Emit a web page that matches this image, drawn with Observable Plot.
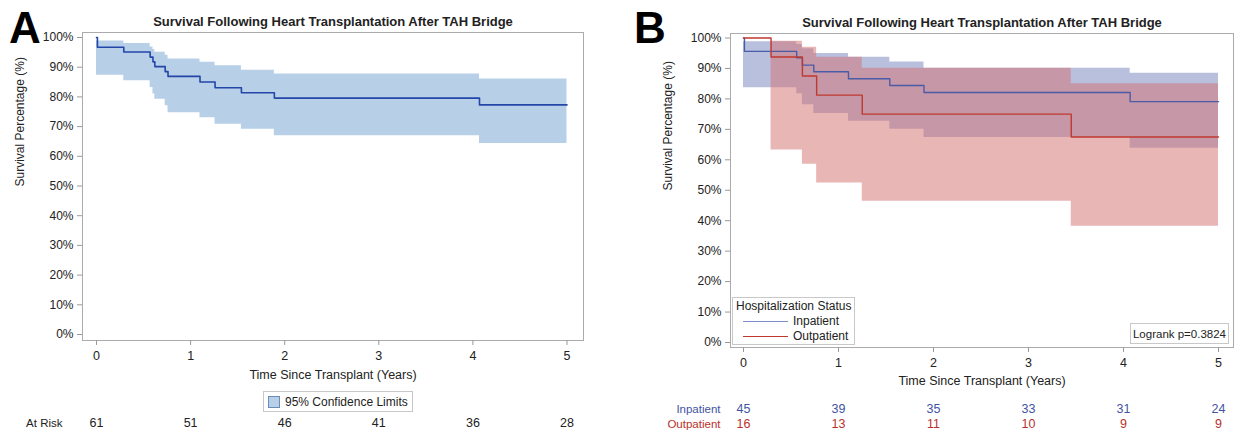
<!DOCTYPE html>
<html><head><meta charset="utf-8">
<script src="https://cdn.jsdelivr.net/npm/d3@7"></script>
<script src="https://cdn.jsdelivr.net/npm/@observablehq/plot@0.6"></script>
<style>
body{margin:0;background:#fff;font-family:"Liberation Sans",Arial,sans-serif;}
#root{position:relative;width:1245px;height:441px;overflow:hidden;background:#fff;}
.letter{position:absolute;font-size:44px;font-weight:bold;color:#000;line-height:1;}
.legbox{position:absolute;background:#fff;border:1px solid #c8c8c8;font-size:12px;color:#222;box-sizing:border-box;white-space:nowrap;}
</style></head><body><div id="root"></div>
<script>
// ---------- shared labels ----------
const chartTitle = "Survival Following Heart Transplantation After TAH Bridge";
const yLabel = "Survival Percentage (%)";
const xLabel = "Time Since Transplant (Years)";
const xTicks = [0, 1, 2, 3, 4, 5];
const yTicks = [0, 10, 20, 30, 40, 50, 60, 70, 80, 90, 100];

// ---------- Panel A: overall ----------
const timeA = [0, 0.01, 0.29, 0.57, 0.60, 0.62, 0.73, 0.76, 1.10, 1.26, 1.54, 1.89, 4.07, 5.0];
const survA = [100, 96.7, 95.1, 93.4, 91.8, 90.2, 88.5, 86.9, 85.0, 83.1, 81.4, 79.6, 77.3, 77.3];
const ciTimeA = [0, 0.29, 0.57, 0.60, 0.62, 0.73, 0.76, 1.10, 1.26, 1.54, 1.89, 4.07, 5.0];
const ciUpperA = [98.8, 98.0, 96.8, 96.0, 95.0, 94.0, 92.8, 91.7, 90.5, 89.0, 87.7, 86.0, 86.0];
const ciLowerA = [87.3, 85.4, 83.2, 81.0, 79.2, 77.0, 74.7, 73.0, 70.8, 69.1, 66.9, 64.3, 64.3];
const atRiskA = [61, 51, 46, 41, 36, 28];
const ciLegendA = "95% Confidence Limits";

// ---------- Panel B: by hospitalization status ----------
const groups = ["Inpatient", "Outpatient"];
const timeIn = [0, 0.01, 0.56, 0.62, 0.74, 1.105, 1.54, 1.9, 4.07, 5.0];
const survIn = [100, 95.6, 93.5, 91.1, 88.9, 86.6, 84.4, 82.1, 79.1, 79.1];
const ciTimeIn = [0, 0.56, 0.62, 0.74, 1.105, 1.54, 1.9, 4.07, 5.0];
const ciUpperIn = [98.8, 97.9, 96.5, 94.9, 93.7, 92.1, 90.1, 88.4, 88.4];
const ciLowerIn = [83.7, 81.7, 78.1, 75.2, 72.7, 70.0, 67.3, 63.8, 63.8];
const timeOut = [0, 0.29, 0.62, 0.77, 1.25, 3.45, 5.0];
const survOut = [100, 93.75, 87.5, 81.25, 75.0, 67.5, 67.5];
const ciTimeOut = [0.29, 0.62, 0.77, 1.25, 3.45, 5.0];
const ciUpperOut = [98.9, 97.0, 93.7, 90.1, 85.0, 85.0];
const ciLowerOut = [63.2, 58.5, 52.4, 46.4, 38.2, 38.2];
const atRiskIn = [45, 39, 35, 33, 31, 24];
const atRiskOut = [16, 13, 11, 10, 9, 9];
const logrankText = "Logrank p=0.3824";

// ---------- styling ----------
const FONT = '"Liberation Sans", Arial, sans-serif';
const colA = {band: "#b8cfe8", line: "#2346a8"};
const colIn = {band: "#7381bd", line: "#4a5ca8", text: "#4354a3"};
const colOut = {band: "#d36d6d", line: "#c0392f", text: "#b8322b"};

const rows = (t, v) => t.map((x, i) => ({t: x, v: v[i]}));
const bands = (t, lo, hi) => t.map((x, i) => ({t: x, lo: lo[i], hi: hi[i]}));
const root = document.getElementById("root");

function commonMarks(o) {
  return [
    Plot.frame({stroke: "#ababab"}),
    Plot.axisY({ticks: yTicks, tickFormat: d => d + "%", tickSize: 5, tickPadding: 4, stroke: "#9a9a9a", fill: "#222", label: null, fontSize: 12}),
    Plot.axisX({ticks: xTicks, tickFormat: d => String(d), tickSize: 5, tickPadding: 6, stroke: "#9a9a9a", fill: "#222", label: null, fontSize: 12.5}),
    Plot.text([chartTitle], {text: d => d, frameAnchor: "top", dy: -16, fontWeight: "bold", fontSize: 13, fill: "#222"}),
    Plot.text([yLabel], {text: d => d, frameAnchor: "left", rotate: -90, dx: o.yLabDx, fontSize: 12, fill: "#222"}),
    Plot.text([xLabel], {text: d => d, frameAnchor: "bottom", dy: o.xLabDy, fontSize: 12.5, fill: "#222"})
  ];
}

// ---------- Panel A ----------
const plotA = Plot.plot({
  width: 620, height: 441,
  marginLeft: 82, marginRight: 37, marginTop: 32, marginBottom: 101,
  style: {fontFamily: FONT, background: "transparent", overflow: "visible"},
  x: {domain: [0, 5], insetLeft: 14, insetRight: 16.5},
  y: {domain: [0, 100], insetTop: 5, insetBottom: 6},
  marks: [
    Plot.areaY(bands(ciTimeA, ciLowerA, ciUpperA), {x: "t", y1: "lo", y2: "hi", curve: "step-after", fill: colA.band}),
    Plot.line(rows(timeA, survA), {x: "t", y: "v", curve: "step-after", stroke: colA.line, strokeWidth: 1.6}),
    ...commonMarks({yLabDx: -62, xLabDy: 38}),
    Plot.text(atRiskA, {x: (d, i) => xTicks[i], text: d => String(d), frameAnchor: "bottom", dy: 86, fontSize: 12.5, fill: "#222"}),
    Plot.text(["At Risk"], {text: d => d, frameAnchor: "bottom-left", dx: -20, dy: 86, textAnchor: "end", fontSize: 11.5, fill: "#222"})
  ]
});
plotA.style.position = "absolute"; plotA.style.left = "0px"; plotA.style.top = "0px";
root.appendChild(plotA);

// ---------- Panel B ----------
const plotB = Plot.plot({
  width: 625, height: 441,
  marginLeft: 110, marginRight: 12, marginTop: 33, marginBottom: 94,
  style: {fontFamily: FONT, background: "transparent", overflow: "visible"},
  x: {domain: [0, 5], insetLeft: 13, insetRight: 15},
  y: {domain: [0, 100], insetTop: 4.5, insetBottom: 5},
  marks: [
    Plot.areaY(bands(ciTimeIn, ciLowerIn, ciUpperIn), {x: "t", y1: "lo", y2: "hi", curve: "step-after", fill: colIn.band, fillOpacity: 0.5}),
    Plot.areaY(bands(ciTimeOut, ciLowerOut, ciUpperOut), {x: "t", y1: "lo", y2: "hi", curve: "step-after", fill: colOut.band, fillOpacity: 0.5}),
    Plot.line(rows(timeIn, survIn), {x: "t", y: "v", curve: "step-after", stroke: colIn.line, strokeWidth: 1.4}),
    Plot.line(rows(timeOut, survOut), {x: "t", y: "v", curve: "step-after", stroke: colOut.line, strokeWidth: 1.4}),
    ...commonMarks({yLabDx: -62, xLabDy: 37}),
    Plot.text(atRiskIn, {x: (d, i) => xTicks[i], text: d => String(d), frameAnchor: "bottom", dy: 65, fontSize: 12.5, fill: colIn.text}),
    Plot.text(atRiskOut, {x: (d, i) => xTicks[i], text: d => String(d), frameAnchor: "bottom", dy: 80, fontSize: 12.5, fill: colOut.text}),
    Plot.text([groups[0]], {text: d => d, frameAnchor: "bottom-left", dx: -10, dy: 65, textAnchor: "end", fontSize: 11.5, fill: colIn.text}),
    Plot.text([groups[1]], {text: d => d, frameAnchor: "bottom-left", dx: -10, dy: 80, textAnchor: "end", fontSize: 11.5, fill: colOut.text})
  ]
});
plotB.style.position = "absolute"; plotB.style.left = "620px"; plotB.style.top = "0px";
root.appendChild(plotB);

// ---------- panel letters ----------
[["A", 9, 6], ["B", 634, 6]].forEach(([t, l, tp]) => {
  const d = document.createElement("div");
  d.className = "letter"; d.textContent = t;
  d.style.left = l + "px"; d.style.top = tp + "px";
  root.appendChild(d);
});

// ---------- legend A ----------
const legA = document.createElement("div");
legA.className = "legbox";
legA.style.cssText += "left:263px;top:391px;height:21px;padding:0 4px;display:flex;align-items:center;gap:5px;";
legA.innerHTML = `<span style="display:inline-block;width:10px;height:10px;background:${colA.band};border:1px solid #6b8cb8"></span><span>${ciLegendA}</span>`;
root.appendChild(legA);

// ---------- legend B ----------
const legB = document.createElement("div");
legB.className = "legbox";
legB.style.cssText += "left:732px;top:297px;height:48px;padding:1px 3px;line-height:15px;";
legB.innerHTML = `<div>Hospitalization Status</div>` +
  groups.map((g, i) => `<div style="display:flex;align-items:center;gap:5px;padding-left:7px"><span style="display:inline-block;width:45px;height:0;border-top:1.5px solid ${i ? colOut.line : "#7d8ccc"}"></span><span>${g}</span></div>`).join("");
root.appendChild(legB);

const lr = document.createElement("div");
lr.className = "legbox";
lr.style.cssText += "left:1130px;top:323px;width:99px;height:21px;display:flex;align-items:center;justify-content:center;font-size:11.5px;";
lr.textContent = logrankText;
root.appendChild(lr);
</script></body></html>
